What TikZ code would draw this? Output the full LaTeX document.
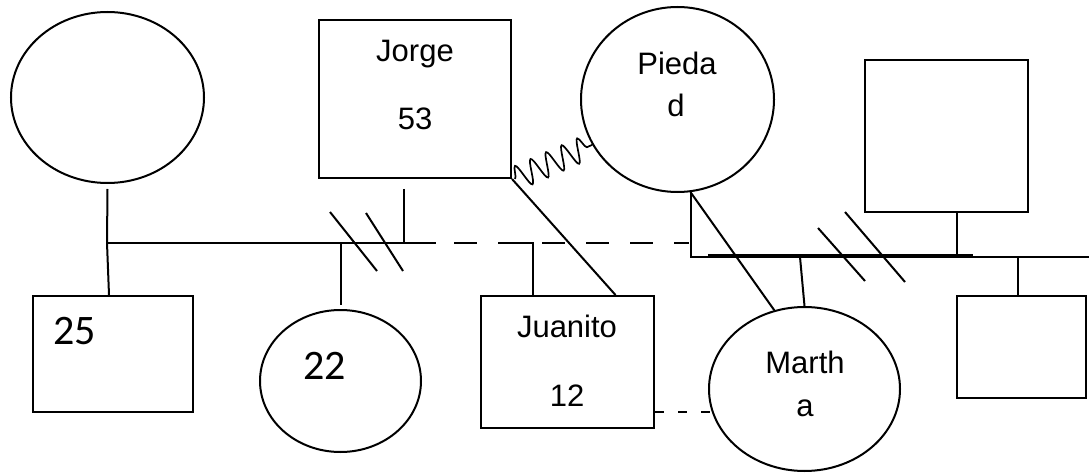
\documentclass[tikz,border=0pt]{standalone}
\usepackage{fontspec}
\setmainfont{Liberation Sans}
\newfontfamily\numfont{Carlito}
\usetikzlibrary{shapes.geometric,decorations.pathmorphing}

\begin{document}
\begin{tikzpicture}[x=1pt,y=-1pt,line width=2pt,
    male/.style={draw,rectangle,inner sep=0pt},
    female/.style={draw,ellipse,inner sep=0pt},
    txt/.style={inner sep=0pt,anchor=base,font=\fontsize{31pt}{31pt}\selectfont},
    num/.style={inner sep=0pt,anchor=base west,font=\numfont\fontsize{42pt}{42pt}\selectfont}]
        \useasboundingbox (0,0) rectangle (1089,473);
        % people
        \node[female,minimum width=193pt,minimum height=171pt] (G) at (107.5,97.5) {};
        \node[male,minimum width=192pt,minimum height=158pt] (J) at (415,99) {};
        \node[female,minimum width=193pt,minimum height=185pt] (P) at (677.5,99.5) {};
        \node[male,minimum width=163pt,minimum height=152pt] (TR) at (946.5,136) {};
        \node[male,minimum width=160pt,minimum height=116pt] (A25) at (113,354) {};
        \node[female,minimum width=161pt,minimum height=142pt] (A22) at (340.5,381) {};
        \node[male,minimum width=173pt,minimum height=132pt] (Ju) at (567.5,362) {};
        \node[female,minimum width=191pt,minimum height=164pt] (M) at (804.5,389) {};
        \node[male,minimum width=129pt,minimum height=102pt] (BR) at (1021.5,347) {};
        % names and ages
        \node[txt] (Jn) at (415,62) {Jorge};
        \node[txt] (Ja) at (415,130) {53};
        \node[txt] (Pn) at (677,75) {Pieda};
        \node[txt] (Pn2) at (676,117) {d};
        \node[txt] (Jun) at (567,337) {Juanito};
        \node[txt] (Jua) at (567,406) {12};
        \node[txt] (Mn) at (805,373) {Marth};
        \node[txt] (Mn2) at (805,416) {a};
        \node[num] (N25) at (52,344) {25};
        \node[num] (N22) at (302,379) {22};
        % sibling lines
        \coordinate (sibL) at (107,243);
        \coordinate (sibM) at (436,243);
        \coordinate (sibR) at (689,243);
        \coordinate (jc) at (533,243);
        \coordinate (sib2L) at (689,257);
        \coordinate (sib2R) at (1089,257);
        \coordinate (th1) at (708,255.5);
        \coordinate (th2) at (973,255.5);
        \coordinate (mj) at (800,257);
        \draw (G.south) ++(0,5) -- (sibL) -- ([xshift=-4pt]A25.north);
        \draw (sibL) -- (sibM);
        \draw[dash pattern=on 23pt off 21pt,dash phase=26pt] (sibM) -- (sibR);
        \draw ([xshift=-28pt]jc) -- (jc) -- (jc |- Ju.north);
        \draw (A22.north |- sibL) -- ([yshift=4pt]A22.north);
        \draw ([xshift=-11pt,yshift=-10pt]J.south) coordinate (jv) -- (jv |- sibL);
        \draw[line width=1.7pt,decorate,decoration={snake,amplitude=12pt,segment length=17pt}] ([xshift=3pt]J.south east) -- (P.208);
        \draw (J.south east) -- ([xshift=48pt]Ju.north);
        \draw (P.-82) -- (P.-82 |- sib2L) -- (sib2R);
        \draw[line width=3pt] (th1) -- (th2);
        \draw ([xshift=10pt]TR.south) coordinate (tv) -- (tv |- sib2L);
        \draw (mj) -- (M.north);
        \draw (P.-82) -- (M.111);
        \draw ([xshift=-3.5pt]BR.north) coordinate (bv) -- (bv |- sib2L);
        \draw[dash pattern=on 9pt off 14pt] (Ju.east |- M.194) -- (M.194);
        % divorce marks
        \draw (330,212) -- (377,271);
        \draw (366,213) -- (403,271);
        \draw (818,228) -- (865,281);
        \draw (845,212) -- (905,282);

      \end{tikzpicture}
\end{document}
